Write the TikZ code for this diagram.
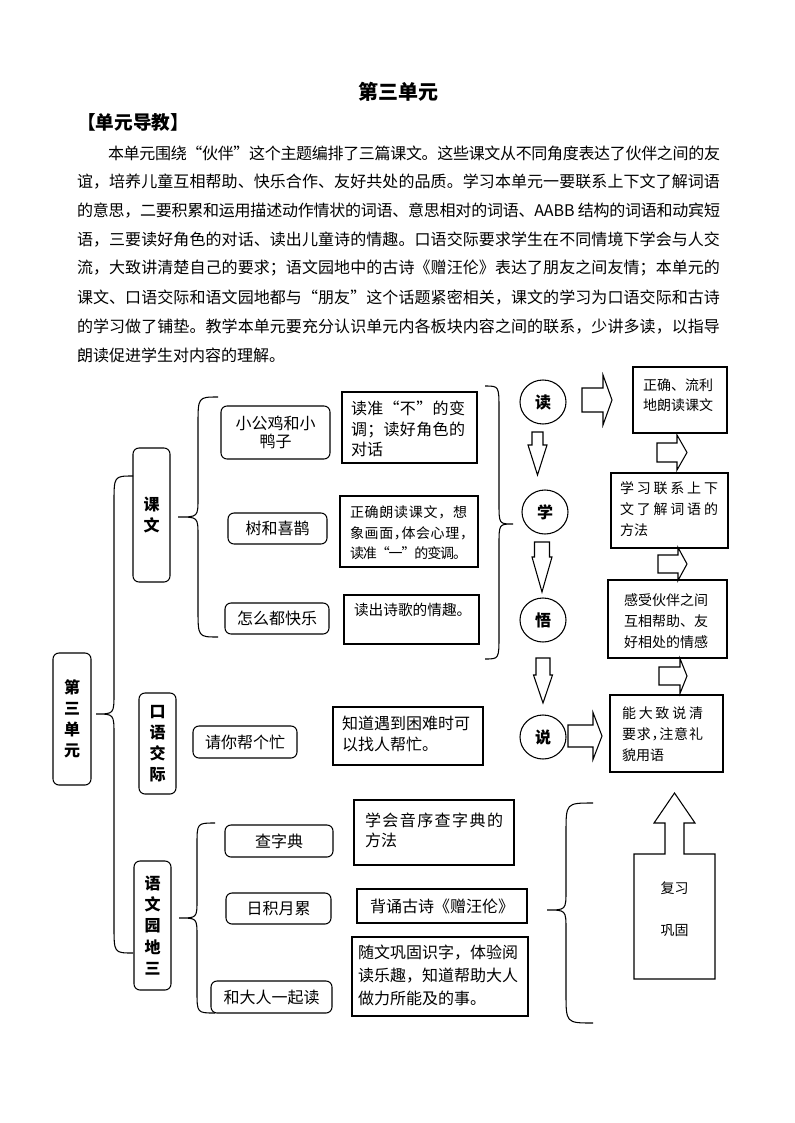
\documentclass[tikz,border=0pt]{standalone}
\usepackage{fontspec}
\setmainfont{Noto Sans CJK SC}
\usetikzlibrary{shapes.geometric}
\newdimen\jlu \jlu=0.75pt
\def\jlfirst#1{{#1}\jlloop}
\def\jlloop#1{\ifx\relax#1\else\hskip 0pt plus 1fil minus 1pt\relax{#1}\expandafter\jlloop\fi}
\newcommand\jl[2]{\hbox to #1\jlu{\jlfirst#2\relax}}
\newcommand\hc{\addfontfeature{RawFeature=+halt}}
\newcommand\mkbox[7]{\node[#1, minimum width={(#5-#3)*0.75pt}, minimum height={(#6-#4)*0.75pt}] (#2) at ({(#3+#5)/2},{(#4+#6)/2}) {#7};}
\newcommand\darr[6]{\draw[blk] ({#1-#4/2},#2) -- ({#1+#4/2},#2) -- ({#1+#4/2},{#2+#3-#6}) -- ({#1+#5/2},{#2+#3-#6}) -- (#1,{#2+#3}) -- ({#1-#5/2},{#2+#3-#6}) -- ({#1-#4/2},{#2+#3-#6}) -- cycle;}
\newcommand\rarr[6]{\draw[blk] (#1,{#2-#4/2}) -- ({#1+#3-#6},{#2-#4/2}) -- ({#1+#3-#6},{#2-#5/2}) -- ({#1+#3},#2) -- ({#1+#3-#6},{#2+#5/2}) -- ({#1+#3-#6},{#2+#4/2}) -- (#1,{#2+#4/2}) -- cycle;}
\newcommand\mybrace[8]{\draw[brc] (#1,#4) .. controls (#2,#4) .. (#2,{#4+#7}) -- (#2,{#5-#8}) .. controls (#2,#5) .. (#3,#5) .. controls (#2,#5) .. (#2,{#5+#8}) -- (#2,{#6-#7}) .. controls (#2,#6) .. (#1,#6);}
\tikzset{
  ln/.style={line width=0.8pt},
  rbox/.style={draw, ln, rounded corners=4.5pt, inner sep=0pt, outer sep=0pt, align=center, font=\fontsize{12}{13.5}\selectfont},
  vlab/.style={rbox, font=\fontsize{12}{15.9}\bfseries\selectfont},
  sbox/.style={draw, ln, inner sep=0pt, outer sep=0pt, align=center, font=\fontsize{12}{14}\selectfont},
  txt/.style={inner sep=0pt, outer sep=0pt, anchor=north west, align=left, font=\fontsize{12}{15.4}\selectfont},
  stxt/.style={txt, font=\fontsize{10.5}{15.75}\selectfont},
  ltxt/.style={inner sep=0pt, outer sep=0pt, anchor=west, font=\fontsize{12}{14}\selectfont},
  circ/.style={draw, ln, ellipse, inner sep=0pt, minimum width=34.5pt, minimum height=33pt, font=\fontsize{12}{14}\bfseries\selectfont},
  blk/.style={draw, ln, line join=miter},
  brc/.style={draw, ln},
}
\begin{document}
\begin{tikzpicture}[x=0.75pt, y=-0.75pt]
\fill[white] (0,0) rectangle (794,1123);
\useasboundingbox (0,0) rectangle (794,1123);
% title and paragraph
\node[inner sep=0pt, font=\fontsize{15}{18}\bfseries\selectfont] (title) at (398,92) {第三单元};
\node[ltxt, font=\fontsize{14}{18}\bfseries\selectfont] (sub) at (77,122) {【单元导教】};
\node[ltxt] (p1) at (108,153) {\jl{612}{本单元围绕“伙伴”这个主题编排了三篇课文。这些课文从不同角度表达了伙伴之间的友}};
\node[ltxt] (p2) at (77,181.9) {\jl{643}{谊，培养儿童互相帮助、快乐合作、友好共处的品质。学习本单元一要联系上下文了解词语}};
\node[ltxt] (p3) at (77,210.7) {\jl{643}{的意思，二要积累和运用描述动作情状的词语、意思相对的词语、{AABB }结构的词语和动宾短}};
\node[ltxt] (p4) at (77,239.6) {\jl{643}{语，三要读好角色的对话、读出儿童诗的情趣。口语交际要求学生在不同情境下学会与人交}};
\node[ltxt] (p5) at (77,268.4) {\jl{643}{流，大致讲清楚自己的要求；语文园地中的古诗《赠汪伦》表达了朋友之间友情；本单元的}};
\node[ltxt] (p6) at (77,297.3) {\jl{643}{课文、口语交际和语文园地都与“朋友”这个话题紧密相关，课文的学习为口语交际和古诗}};
\node[ltxt] (p7) at (77,326.1) {\jl{643}{的学习做了铺垫。教学本单元要充分认识单元内各板块内容之间的联系，少讲多读，以指导}};
\node[ltxt] (p8) at (77,355) {朗读促进学生对内容的理解。};
% left labels
\mkbox{vlab}{unit}{53}{653}{91}{785}{第\\三\\单\\元}
\mkbox{vlab}{kewen}{133}{448}{170}{582}{课\\文}
\mkbox{vlab}{kouyu}{139}{693}{176}{794}{口\\语\\交\\际}
\mkbox{vlab}{yuwen}{134}{861}{171}{990}{语\\文\\园\\地\\三}
% braces
\mybrace{133}{114}{96}{476}{714}{953}{27}{21}
\mybrace{218}{198}{178}{397}{517}{637}{28}{19}
\mybrace{485}{499}{513}{386}{524}{659}{24}{21}
\mybrace{215}{197}{179}{823}{918}{1013}{22}{18}
\mybrace{593}{566}{547}{803}{910}{1023}{30}{20}
% lesson boxes
\mkbox{rbox}{a1}{221}{406}{330}{459}{小公鸡和小\\鸭子}
\mkbox{rbox}{a2}{228}{513}{327}{544}{树和喜鹊}
\mkbox{rbox}{a3}{225}{603}{329}{634}{怎么都快乐}
\mkbox{rbox}{c0}{193}{726}{297}{758}{请你帮个忙}
\mkbox{rbox}{d01}{225}{825}{333}{857}{查字典}
\mkbox{rbox}{d02}{226}{893}{331}{924}{日积月累}
\mkbox{rbox}{d03}{211}{981}{332}{1013}{和大人一起读}
% goal boxes
\mkbox{sbox}{b1}{342}{392}{477}{463}{}
\node[txt] (b1t) at (351,401) {\jl{114}{读准“不”的变}\\\jl{114}{调；读好角色的}\\对话};
\mkbox{sbox}{b2}{340}{496}{478}{567}{}
\node[stxt, font=\fontsize{10.5}{15.4}\selectfont] (b2t) at (350,506) {\jl{117}{正确朗读课文，想}\\\jl{117}{象画面{\hc，}体会心理{\hc，}}\\\jl{117}{读准“一”的变调。}};
\mkbox{sbox}{b3}{344}{595}{479}{644}{}
\node[txt, font=\fontsize{11}{14}\selectfont] (b3t) at (354,603) {读出诗歌的情趣。};
\mkbox{sbox}{c1}{333}{707}{483}{765}{}
\node[txt, font=\fontsize{12}{15.75}\selectfont] (c1t) at (342,716) {知道遇到困难时可\\以找人帮忙。};
\mkbox{sbox}{d1}{354}{800}{514}{865}{}
\node[txt, font=\fontsize{12}{15}\selectfont] (d1t) at (365,813) {\jl{138}{学会音序查字典的}\\方法};
\mkbox{sbox}{d2}{357}{889}{527}{923}{背诵古诗《赠汪伦》}
\mkbox{sbox}{d3}{352}{937}{528}{1016}{}
\node[txt, font=\fontsize{12}{17.25}\selectfont] (d3t) at (358,945) {随文巩固识字，体验阅\\读乐趣，知道帮助大人\\做力所能及的事。};
% right column
\node[circ] (du) at (543,402) {读};
\node[circ] (xue) at (545,512) {学};
\node[circ] (wu) at (543,620) {悟};
\node[circ] (shuo) at (543,737) {说};
\mkbox{sbox}{r1}{633}{367}{727}{433}{}
\node[stxt, font=\fontsize{10.5}{15}\selectfont] (r1t) at (643,379) {正确、流利\\地朗读课文};
\mkbox{sbox}{r2}{611}{473}{728}{548}{}
\node[stxt] (r2t) at (620,482) {\jl{98}{学习联系上下}\\\jl{98}{文了解词语的}\\方法};
\mkbox{sbox}{r3}{608}{580}{727}{658}{}
\node[stxt] (r3t) at (624,594) {感受伙伴之间\\互相帮助、友\\好相处的情感};
\mkbox{sbox}{r4}{610}{695}{723}{772}{}
\node[stxt] (r4t) at (622,707) {\jl{81}{能大致说清}\\\jl{81}{要求{\hc，}注意礼}\\貌用语};
% block arrows
\darr{537.5}{432}{43}{11}{19}{30}
\darr{542}{542}{50}{15}{20}{35}
\darr{543}{658}{45}{14}{19}{28}
\rarr{582}{400}{30}{24}{50}{9}
\rarr{568}{736}{34}{22}{47}{9}
\rarr{657}{452.5}{30}{19}{35}{10}
\rarr{658}{564}{29}{18}{33}{9}
\rarr{659}{676}{28}{18}{35}{7}
% review box with up arrow
\draw[blk] (634,979) -- (634,854) -- (665,854) -- (665,823) -- (654,823) -- (674.5,793) -- (695,823) -- (684,823) -- (684,854) -- (715,854) -- (715,979) -- cycle;
\node[inner sep=0pt, align=center, font=\fontsize{10.5}{31.5}\selectfont] (fx) at (674.5,909) {复习\\巩固};
\end{tikzpicture}
\end{document}
